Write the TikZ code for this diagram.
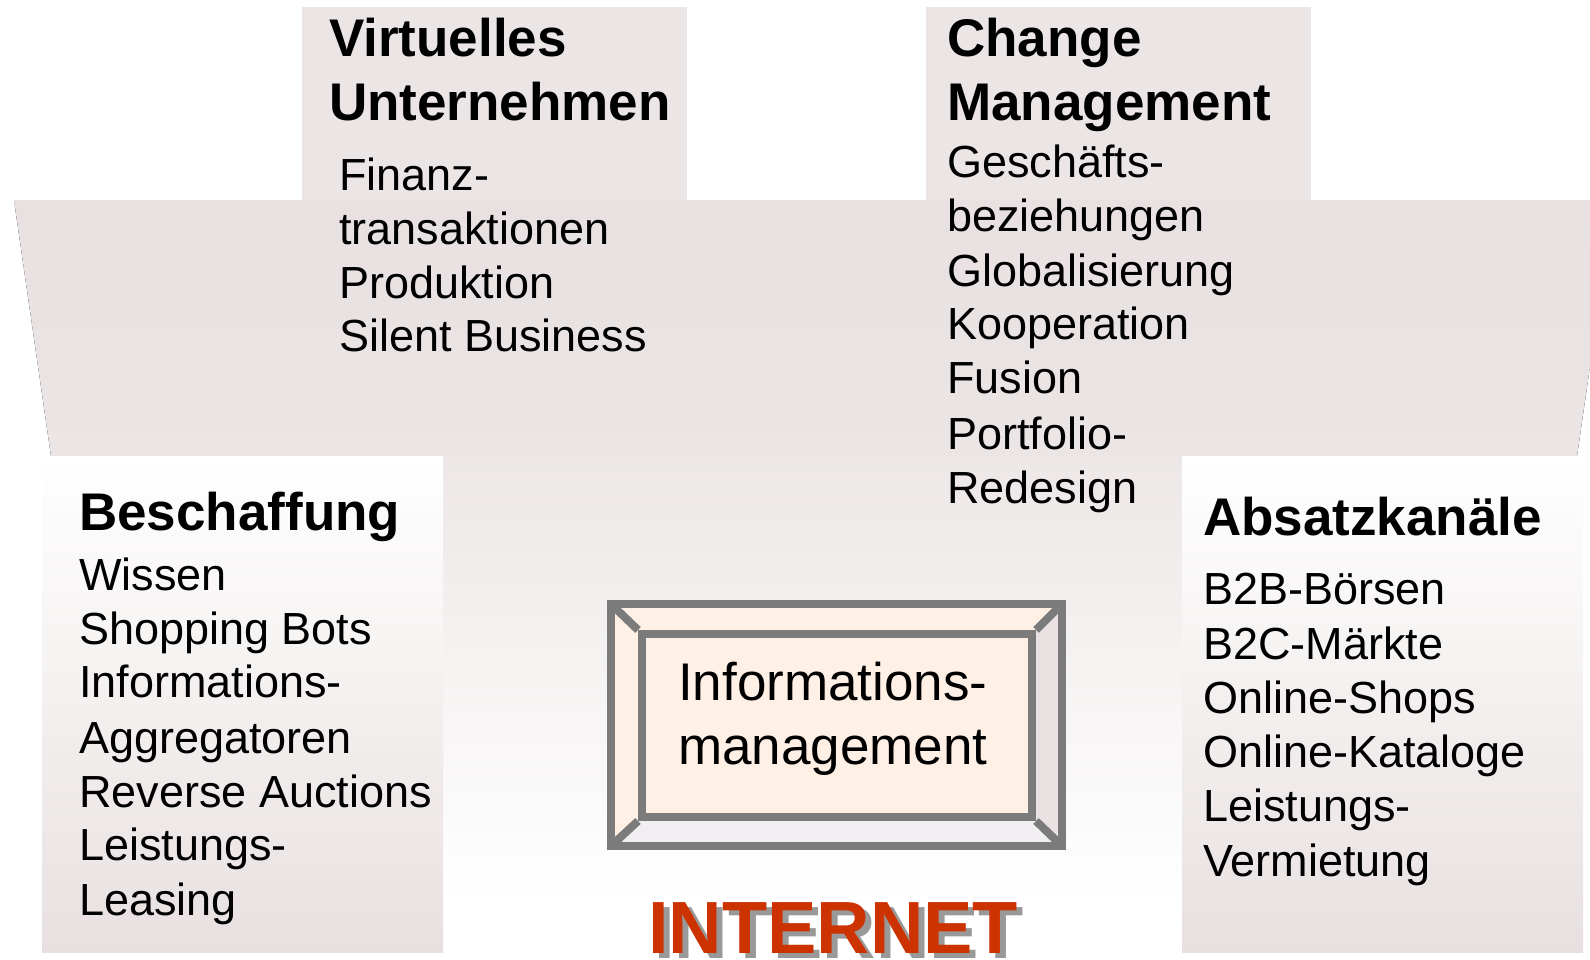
\documentclass[tikz,border=0pt]{standalone}
\usepackage{fontspec}
\setmainfont{Liberation Sans}
\definecolor{pinkA}{HTML}{E8E0E1}
\definecolor{pinkTop}{HTML}{EBE5E5}
\definecolor{pinkB}{HTML}{E8E0E0}
\definecolor{bgTop}{HTML}{EDE7E7}
\definecolor{peach}{HTML}{FFF0E6}
\definecolor{bevR}{HTML}{EAE1E3}
\definecolor{bevB}{HTML}{F0EEF0}
\definecolor{framegray}{HTML}{7B7B7B}
\definecolor{inetred}{HTML}{CC3300}
\definecolor{shadowgray}{HTML}{999999}
\tikzset{
  item/.style={anchor=base west, inner sep=0pt, font=\fontsize{45}{54}\selectfont},
  head/.style={anchor=base west, inner sep=0pt, font=\fontsize{53}{60}\selectfont\bfseries},
  infotxt/.style={anchor=base west, inner sep=0pt, font=\fontsize{53}{63}\selectfont},
  inet/.style={anchor=base west, inner sep=0pt, font=\fontsize{74}{80}\selectfont\bfseries},
  frameline/.style={draw=framegray, line width=8pt, line join=miter},
}
\begin{document}
\begin{tikzpicture}[x=1pt,y=-1pt]
\useasboundingbox (0,0) rectangle (1590,959);
\clip (0,0) rectangle (1590,959);
\fill[white] (0,0) rectangle (1590,959);
% wide trapezoid band
\fill[top color=pinkA, bottom color=pinkTop] (14,200) -- (1614,200) -- (1577,456) -- (51,456) -- cycle;
% top boxes
\fill[pinkTop] (302,7) rectangle (687,200);
\fill[pinkTop] (926,7) rectangle (1311,200);
% centre background fading to white
\fill[top color=bgTop, bottom color=white] (443,456) rectangle (1182,900);
% side boxes
\fill[top color=white, bottom color=pinkB] (42,456) rectangle (443,952);
\fill[top color=white, bottom color=pinkB] (1182,456) rectangle (1583,952);

% information management box (bevelled)
\coordinate (otl) at (611,604); \coordinate (otr) at (1062,604);
\coordinate (obr) at (1062,846); \coordinate (obl) at (611,846);
\coordinate (itl) at (642,634); \coordinate (itr) at (1032,634);
\coordinate (ibr) at (1032,817); \coordinate (ibl) at (642,817);
\fill[peach] (otl) -- (otr) -- (itr) -- (itl) -- cycle;
\fill[peach] (otl) -- (itl) -- (ibl) -- (obl) -- cycle;
\fill[bevR] (otr) -- (obr) -- (ibr) -- (itr) -- cycle;
\fill[bevB] (obl) -- (ibl) -- (ibr) -- (obr) -- cycle;
\node[frameline, fill=peach, rectangle, inner sep=0pt, minimum width=390pt, minimum height=183pt] (info) at (837,725.5) {};
\draw[frameline] (otl) rectangle (obr);
\draw[frameline] (otl) -- (info.north west);
\draw[frameline] (otr) -- (info.north east);
\draw[frameline] (obl) -- (info.south west);
\draw[frameline] (obr) -- (info.south east);
\node[infotxt] (info1) at (678,700.7) {Informations-};
\node[infotxt] (info2) at (678,764) {management};

% INTERNET with shadow
\node[inet, text=shadowgray] (inetshadow) at (654,958) {INTERNET};
\node[inet, text=inetred] (inet) at (648,953) {INTERNET};

% Virtuelles Unternehmen
\node[head] (vuh1) at (329,56) {Virtuelles};
\node[head] (vuh2) at (329,120) {Unternehmen};
\foreach \t/\y [count=\i] in {Finanz-/190.6, transaktionen/244.4, Produktion/298, Silent Business/351.9}
  \node[item] (vu\i) at (339,\y) {\t};

% Change Management
\node[head] (cmh1) at (947,56) {Change};
\node[head] (cmh2) at (947,120) {Management};
\foreach \t/\y [count=\i] in {Geschäfts-/177.5, beziehungen/231.2, Globalisierung/286, Kooperation/339.7, Fusion/393.4, Portfolio-/449.2, Redesign/503}
  \node[item] (cm\i) at (947,\y) {\t};

% Beschaffung
\node[head] (beh) at (79,530) {Beschaffung};
\foreach \t/\y [count=\i] in {Wissen/590, Shopping Bots/644, Informations-/697.6, Aggregatoren/753.4, Reverse Auctions/807.1, Leistungs-/860.9, Leasing/915.6}
  \node[item] (be\i) at (79,\y) {\t};

% Absatzkanaele
\node[head] (abh) at (1203,535.4) {Absatzkanäle};
\foreach \t/\y [count=\i] in {B2B-Börsen/604.3, B2C-Märkte/659, Online-Shops/713.9, Online-Kataloge/767.6, Leistungs-/821.3, Vermietung/876}
  \node[item] (ab\i) at (1203,\y) {\t};
\end{tikzpicture}
\end{document}
